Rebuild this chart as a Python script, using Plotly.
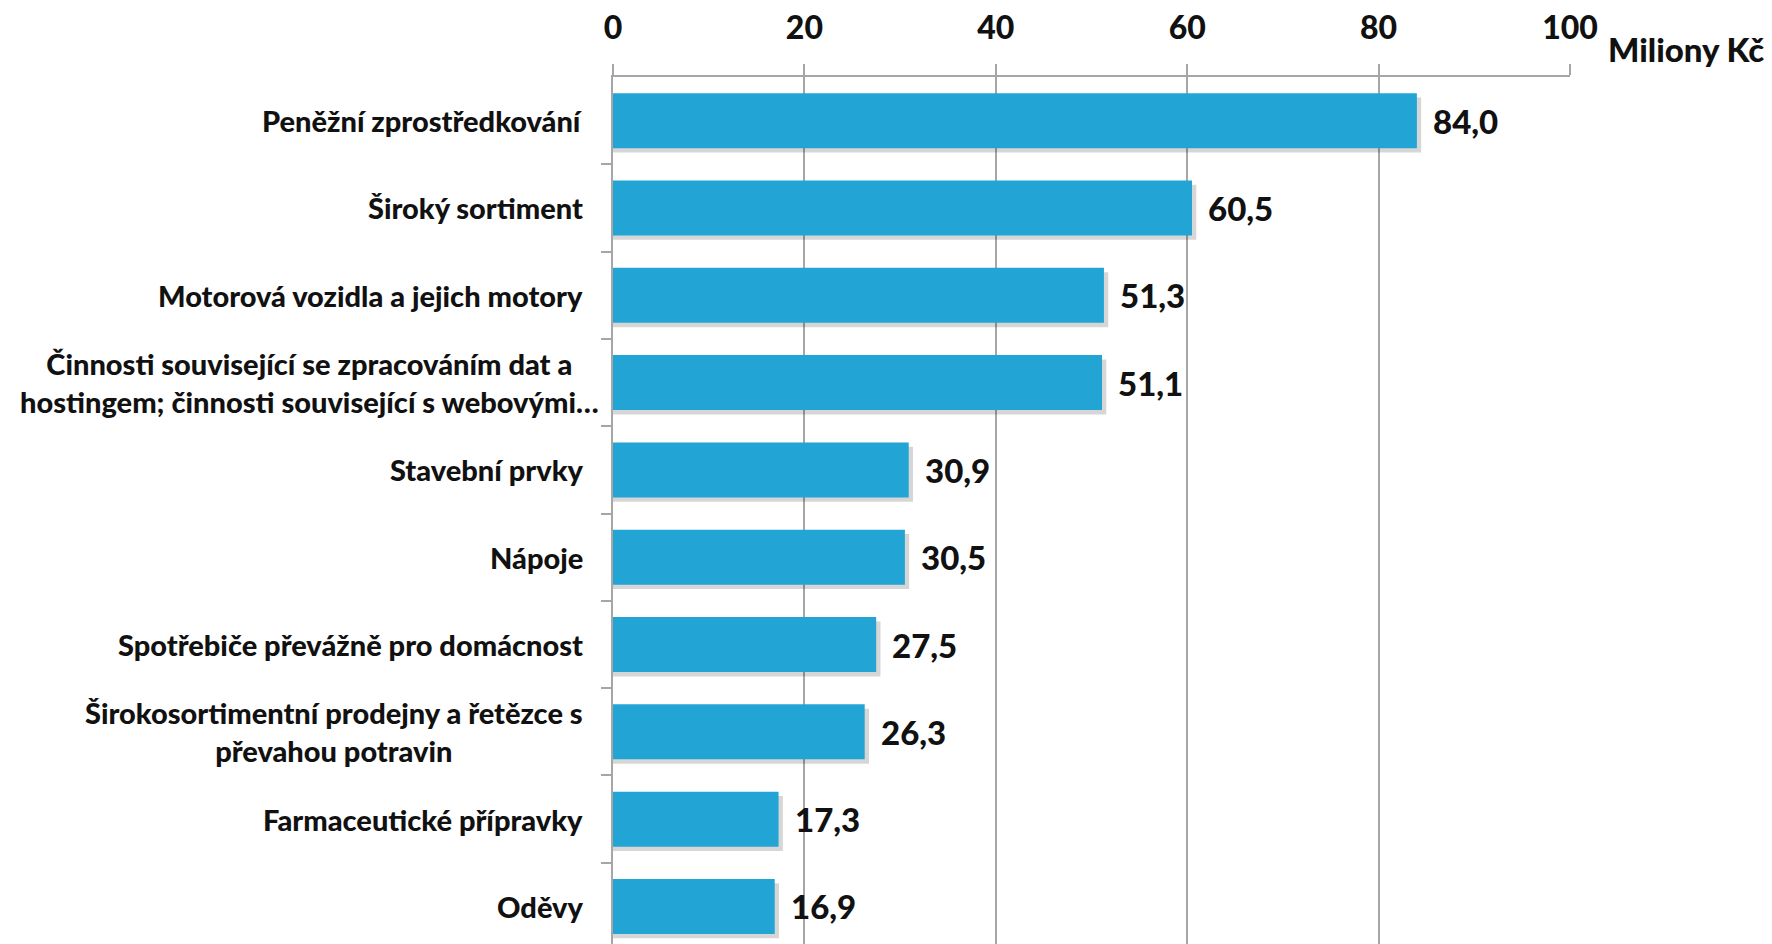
import plotly.graph_objects as go

categories = [
    "Peněžní zprostředkování",
    "Široký sortiment",
    "Motorová vozidla a jejich motory",
    "Činnosti související se zpracováním dat a<br>hostingem; činnosti související s webovými…",
    "Stavební prvky",
    "Nápoje",
    "Spotřebiče převážně pro domácnost",
    "Širokosortimentní prodejny a řetězce s<br>převahou potravin",
    "Farmaceutické přípravky",
    "Oděvy",
]
values = [84.0, 60.5, 51.3, 51.1, 30.9, 30.5, 27.5, 26.3, 17.3, 16.9]
value_labels = ["84,0", "60,5", "51,3", "51,1", "30,9", "30,5", "27,5", "26,3", "17,3", "16,9"]
x_ticks = [0, 20, 40, 60, 80, 100]
unit_label = "Miliony Kč"

# horizontal offsets of the category label boxes (px); the over-long label
# overflows its box to the right, as in the original
label_shift = [-28, -28, -28, -12, -28, -28, -28, -28, -28, -28]

BAR_COLOR = "#22A4D4"
FONT = "Lato"
WEIGHT = 900
ypos = list(range(len(categories)))

fig = go.Figure()

# soft shadow behind bars
fig.add_trace(go.Bar(
    y=ypos, x=[v + 0.45 for v in values], orientation="h",
    width=0.63, offset=-0.315 + 0.05,
    marker=dict(color="rgba(0,0,0,0.16)", line=dict(width=0)),
    hoverinfo="skip", showlegend=False,
))
fig.add_trace(go.Bar(
    y=ypos, x=values, orientation="h",
    width=0.63, offset=-0.315,
    marker=dict(color=BAR_COLOR, line=dict(width=0)),
    showlegend=False,
))

for i, (v, lab) in enumerate(zip(values, value_labels)):
    fig.add_annotation(
        x=v, xref="x", y=i, yref="y", text=lab, showarrow=False,
        xanchor="left", yanchor="middle", xshift=14,
        font=dict(family=FONT, size=33, color="#111111", weight=WEIGHT),
    )

for i, c in enumerate(categories):
    fig.add_annotation(
        x=0, xref="paper", y=i, yref="y", text=c, showarrow=False,
        xanchor="right", yanchor="middle", align="center", xshift=label_shift[i],
        font=dict(family=FONT, size=29, color="#111111", weight=WEIGHT),
    )

fig.add_annotation(
    x=1, xref="paper", y=1, yref="paper", text=unit_label, showarrow=False,
    xanchor="left", yanchor="middle", xshift=36, yshift=28,
    font=dict(family=FONT, size=33, color="#111111", weight=WEIGHT),
)

fig.update_layout(
    width=1764, height=936,
    margin=dict(l=605, r=202, t=69, b=0),
    paper_bgcolor="white", plot_bgcolor="white",
    barmode="overlay",
    xaxis=dict(
        side="top", range=[0, 100], tickvals=x_ticks,
        showgrid=True, gridcolor="#A6A6A6", gridwidth=1.5,
        showline=True, linecolor="#A6A6A6", linewidth=1.5,
        ticks="outside", ticklen=11, tickcolor="#A6A6A6", tickwidth=1.5,
        ticklabelstandoff=12,
        tickfont=dict(family=FONT, size=32, color="#111111", weight=WEIGHT),
        zeroline=False,
    ),
    yaxis=dict(
        range=[9.43, -0.5], tickmode="array",
        tickvals=[i + 0.5 for i in ypos[:-1]], ticktext=[""] * (len(ypos) - 1),
        ticks="outside", ticklen=10, tickcolor="#A6A6A6", tickwidth=1.5,
        showline=True, linecolor="#A6A6A6", linewidth=1.5,
        showgrid=False, zeroline=False,
    ),
)

fig.write_html("out.html")
